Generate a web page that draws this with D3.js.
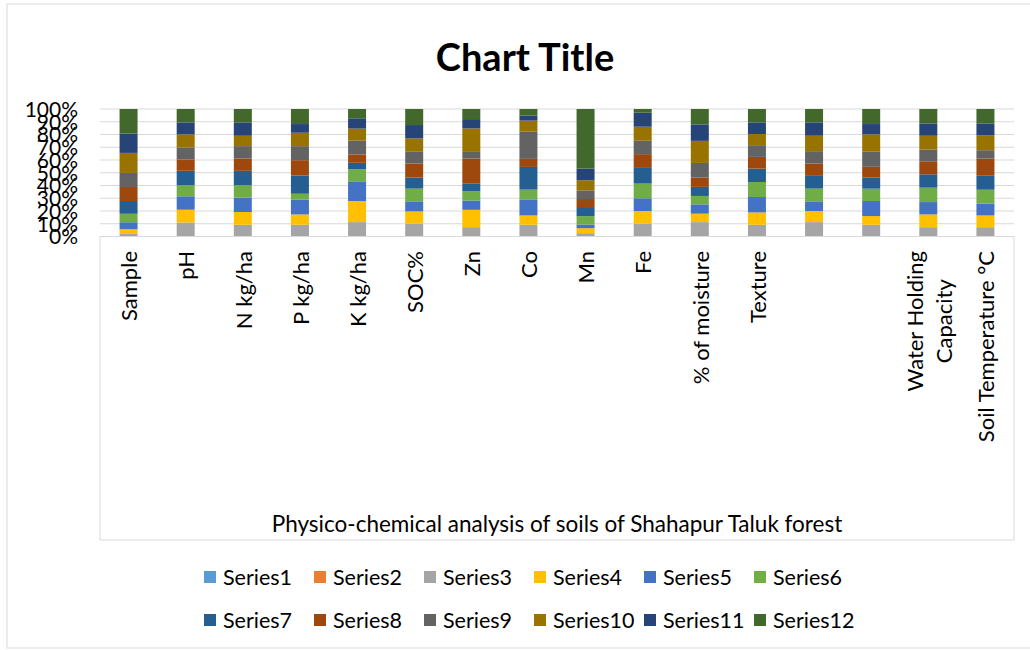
<!DOCTYPE html>
<html>
<head>
<meta charset="utf-8">
<script src="https://cdnjs.cloudflare.com/ajax/libs/d3/7.8.5/d3.min.js"></script>
<style>
    body { margin: 0; background: #fff; }
    text { font-family: Lato, "Open Sans", sans-serif; fill: #000; }
</style>
</head>
<body>
<div id="chart"></div>
<script>
var categories = ["Sample", "pH", "N kg/ha", "P kg/ha", "K kg/ha", "SOC%", "Zn", "Co", "Mn", "Fe",
    "% of moisture", "Texture", "", "", "Water Holding|Capacity", "Soil Temperature °C"];

var seriesNames = ["Series1", "Series2", "Series3", "Series4", "Series5", "Series6",
    "Series7", "Series8", "Series9", "Series10", "Series11", "Series12"];

var series1 = [0, 0, 0, 0, 0, 0, 0, 0, 0, 0, 0, 0, 0, 0, 0, 0];
var series2 = [0, 0, 0, 0, 0, 0, 0, 0, 0, 0, 0, 0, 0, 0, 0, 0];
var series3 = [2, 11, 9.2, 9.2, 11.3, 10, 7.3, 9.2, 2.6, 10, 11.3, 9.2, 11.3, 9.2, 7.3, 7.3];
var series4 = [3.7, 10, 10, 8.1, 16.5, 9.7, 13.6, 7.3, 3.9, 10, 6.6, 9.7, 8.7, 6.8, 10, 9.2];
var series5 = [5.5, 10.5, 11.3, 11.5, 15, 7.9, 7.3, 12.6, 2.9, 10, 7.3, 12.1, 7.6, 11.8, 9.7, 9.2];
var series6 = [6.6, 8.7, 9.7, 4.7, 10, 10, 7.3, 7.6, 6.6, 11.5, 6.6, 11.8, 10, 9.7, 11.3, 11];
var series7 = [10, 11.3, 11.3, 14.2, 5, 8.7, 5.8, 17.8, 7.1, 12.3, 7.1, 10.5, 10, 8.7, 10.5, 11.3];
var series8 = [11, 8.9, 9.7, 12.1, 6.6, 11, 19.7, 6.3, 6.3, 10.8, 7.3, 9.2, 9.7, 8.4, 10.2, 13.1];
var series9 = [11, 9.4, 9.7, 11, 10.8, 9.2, 5.2, 21.3, 6.8, 10.5, 11.5, 9.2, 9.7, 11.8, 9.2, 6.6];
var series10 = [15.7, 10.2, 8.1, 10.5, 9.4, 10.5, 18.4, 8.7, 7.9, 11, 17.3, 8.7, 12.1, 13.6, 10.8, 11.8];
var series11 = [15.2, 9.4, 10.5, 6.8, 8.1, 10.5, 7.3, 3.9, 9.2, 11, 12.9, 9.2, 10.5, 8.1, 9.7, 9.2];
var series12 = [19.2, 10.5, 10.5, 11.8, 7.3, 12.6, 7.9, 5.2, 46.7, 2.9, 12.1, 10.5, 10.5, 11.8, 11.3, 11.3];

var yTicks = [0, 0.1, 0.2, 0.3, 0.4, 0.5, 0.6, 0.7, 0.8, 0.9, 1];

var colors = ["#5b9bd5", "#ed7d31", "#a5a5a5", "#ffc000", "#4472c4", "#70ad47",
    "#255e91", "#9e480e", "#636363", "#997300", "#264478", "#43682b"];

var allSeries = [series1, series2, series3, series4, series5, series6,
    series7, series8, series9, series10, series11, series12];

// rows for d3.stack
var rows = categories.map(function (c, i) {
    var row = {idx: i};
    seriesNames.forEach(function (s, j) {
        row[s] = allSeries[j][i];
    });
    return row;
});

var width = 1030, height = 650;
var plotLeft = 100, plotRight = 1014, plotTop = 109, plotBottom = 236.5;

var svg = d3.select("#chart").append("svg")
    .attr("width", width)
    .attr("height", height);

svg.append("rect")
    .attr("x", 7).attr("y", 4)
    .attr("width", 1040).attr("height", 644)
    .attr("fill", "#fff")
    .attr("stroke", "#d9d9d9");

svg.append("text")
    .attr("x", 525).attr("y", 71)
    .attr("text-anchor", "middle")
    .style("font-size", "38px")
    .style("font-weight", "bold")
    .text("Chart Title");

var x = d3.scaleBand()
    .domain(d3.range(categories.length))
    .range([plotLeft, plotRight])
    .paddingInner(0.685)
    .paddingOuter(0.3425);

var y = d3.scaleLinear().domain([0, 1]).range([plotBottom, plotTop]);

// gridlines
svg.append("g").selectAll("line")
    .data(yTicks)
    .enter().append("line")
    .attr("x1", plotLeft).attr("x2", plotRight)
    .attr("y1", function (d) { return y(d); })
    .attr("y2", function (d) { return y(d); })
    .attr("stroke", "#d9d9d9");

var yAxis = svg.append("g")
    .attr("transform", "translate(78,0)")
    .call(d3.axisLeft(y).tickValues(yTicks).tickSize(0).tickPadding(0).tickFormat(d3.format(".0%")));
yAxis.select(".domain").remove();
yAxis.selectAll("text")
    .style("font-size", "21px")
    .style("font-family", "Lato, sans-serif")
    .attr("fill", "#000")
    .attr("dy", "0.35em");

var stack = d3.stack().keys(seriesNames).offset(d3.stackOffsetExpand);
var layers = stack(rows);

svg.append("g").selectAll("g")
    .data(layers)
    .enter().append("g")
    .attr("fill", function (d, i) { return colors[i]; })
    .selectAll("rect")
    .data(function (d) { return d; })
    .enter().append("rect")
    .attr("x", function (d) { return x(d.data.idx); })
    .attr("width", x.bandwidth())
    .attr("y", function (d) { return y(d[1]); })
    .attr("height", function (d) { return y(d[0]) - y(d[1]); });

// box under the axis
svg.append("rect")
    .attr("x", plotLeft).attr("y", plotBottom)
    .attr("width", plotRight - plotLeft).attr("height", 540 - plotBottom)
    .attr("fill", "none")
    .attr("stroke", "#d9d9d9");

// rotated category labels
var labelTop = 251;
categories.forEach(function (c, i) {
    if (!c) return;
    var lines = c.split("|");
    var g = svg.append("g");
    var cx = x(i) + x.bandwidth() / 2 + 1;
    var texts = lines.map(function (l) {
        return g.append("text")
            .style("font-size", "22px")
            .attr("text-anchor", "middle")
            .text(l);
    });
    var maxLen = d3.max(texts, function (t) { return t.node().getComputedTextLength(); });
    var mid = labelTop + maxLen / 2;
    var lh = 29;
    texts.forEach(function (t, k) {
        var off = (k - (lines.length - 1) / 2) * lh;
        t.attr("transform", "translate(" + (cx + off) + "," + mid + ") rotate(-90)")
            .attr("dy", "0.35em");
    });
});

svg.append("text")
    .attr("x", 557).attr("y", 532)
    .attr("text-anchor", "middle")
    .style("font-size", "22.5px")
    .text("Physico-chemical analysis of soils of Shahapur Taluk forest");

// legend
var legend = svg.append("g").selectAll("g")
    .data(seriesNames)
    .enter().append("g")
    .attr("transform", function (d, i) {
        var col = i % 6, row = Math.floor(i / 6);
        return "translate(" + (204 + col * 110) + "," + (577 + row * 43) + ")";
    });

legend.append("rect")
    .attr("x", 0).attr("y", -6)
    .attr("width", 12).attr("height", 12)
    .attr("fill", function (d, i) { return colors[i]; });

legend.append("text")
    .attr("x", 19).attr("y", 0)
    .attr("dy", "0.35em")
    .style("font-size", "21.5px")
    .text(function (d) { return d; });
</script>
</body>
</html>
